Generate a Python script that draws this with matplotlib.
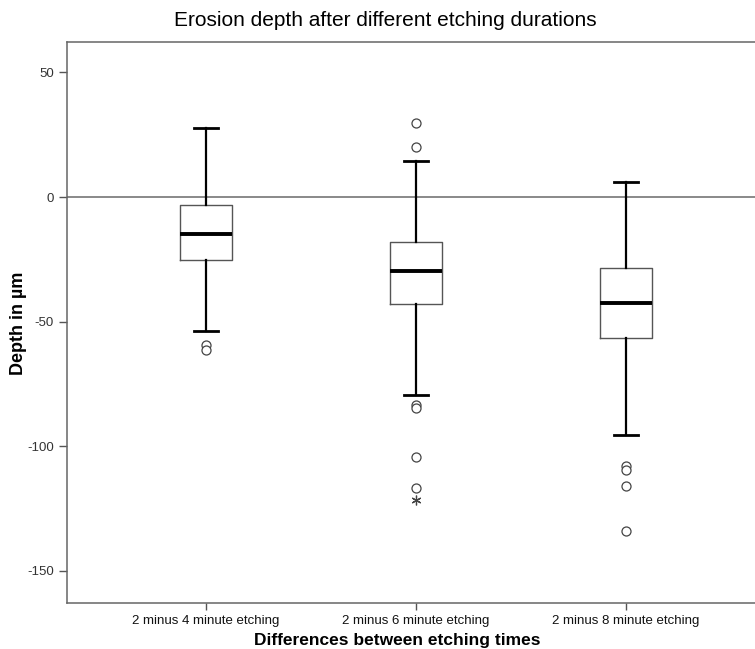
import matplotlib
matplotlib.use('Agg')
import matplotlib.pyplot as plt

# data (µm)
groups = ['2 minus 4 minute etching', '2 minus 6 minute etching', '2 minus 8 minute etching']
whisker_hi = [27.8, 14.3, 6.2]
q3 = [-3.3, -17.9, -28.6]
median = [-14.7, -29.7, -42.7]
q1 = [-25.2, -43.1, -56.4]
whisker_lo = [-53.7, -79.5, -95.6]
outliers = [[-59.5, -61.4],
            [29.8, 20.2, -83.3, -84.8, -104.5, -116.7],
            [-108.0, -109.6, -116.0, -134.0]]
extremes = [[], [-121.7], []]

plt.rcParams['font.family'] = ['Liberation Sans', 'DejaVu Sans']
plt.rcParams['axes.unicode_minus'] = False

fig = plt.figure(figsize=(7.55, 6.49), dpi=100)
ax = fig.add_axes([67/755, 1-603/649, 698/755, 561/649])

stats = []
for i in range(len(groups)):
    stats.append({'med': median[i], 'q1': q1[i], 'q3': q3[i],
                  'whislo': whisker_lo[i], 'whishi': whisker_hi[i],
                  'fliers': outliers[i], 'label': groups[i]})

ax.axhline(0, color='#6a6a6a', lw=1.1, zorder=1)

ax.bxp(stats, positions=[1, 2, 3], widths=0.248, showfliers=True,
       boxprops=dict(color='#555555', lw=1.0),
       medianprops=dict(color='black', lw=2.8),
       whiskerprops=dict(color='black', lw=1.6),
       capprops=dict(color='black', lw=2.0),
       capwidths=0.115,
       flierprops=dict(marker='o', markersize=6.5, markerfacecolor='white',
                       markeredgecolor='#444444', markeredgewidth=0.9, linestyle='none'))

for i, ex in enumerate(extremes):
    if ex:
        ax.plot([i + 1] * len(ex), ex, linestyle='none', marker=(6, 2, 0),
                markersize=7, color='#444444', markeredgewidth=0.9)

ax.set_xlim(0.338, 3.662)
ax.set_ylim(-162.9, 62.2)
ax.set_yticks([-150, -100, -50, 0, 50])
ax.set_xticks([1, 2, 3])
ax.set_xticklabels(groups)
ax.tick_params(axis='y', labelsize=9.5, colors='#333333', length=6, width=1, color='#555555')
ax.tick_params(axis='x', labelsize=9.5, colors='#111111', length=5, width=1, color='#555555')
for s in ['left', 'top', 'bottom']:
    ax.spines[s].set_color('#666666')
    ax.spines[s].set_linewidth(1.1)
ax.spines['right'].set_visible(False)

fig.text(385/755, 1-20/649, 'Erosion depth after different etching durations',
         ha='center', va='center', fontsize=15)
fig.text(397/755, 1-641/649, 'Differences between etching times',
         ha='center', va='center', fontsize=12.5, fontweight='bold')
fig.text(19/755, 1-323/649, 'Depth in µm', rotation=90,
         ha='center', va='center', fontsize=13, fontweight='bold')

fig.savefig('out.png', dpi=100)
